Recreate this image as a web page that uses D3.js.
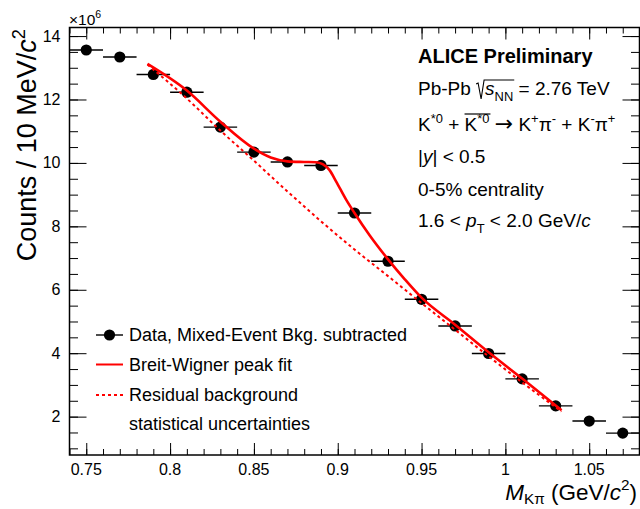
<!DOCTYPE html>
<html>
<head>
<meta charset="utf-8">
<script src="https://d3js.org/d3.v7.min.js"></script>
<style>
  body { margin: 0; background: #fff; }
  text { font-family: "Liberation Sans", Arial, Helvetica, sans-serif; fill: #000; white-space: pre; }
</style>
</head>
<body>
<div id="chart"></div>
<script>
var svgWidth = 640;
var svgHeight = 509;

var margin = { top: 27.5, right: 0.5, bottom: 54, left: 69.5 };
var width = svgWidth - margin.left - margin.right;
var height = svgHeight - margin.top - margin.bottom;

// data (counts in units of 10^6), bins of 20 MeV
var massBins = [0.75, 0.77, 0.79, 0.81, 0.83, 0.85, 0.87, 0.89, 0.91, 0.93, 0.95, 0.97, 0.99, 1.01, 1.03, 1.05, 1.07];
var counts = [13.56, 13.34, 12.79, 12.23, 11.13, 10.34, 10.03, 9.92, 8.42, 6.90, 5.70, 4.86, 3.99, 3.19, 2.34, 1.86, 1.48];
var binHalfWidth = 0.01;

// Breit-Wigner fit
var fitMass = [0.7865, 0.81, 0.83, 0.85, 0.86, 0.87, 0.88, 0.887, 0.891, 0.895, 0.899, 0.905, 0.91, 0.919, 0.93, 0.94, 0.95, 0.97, 0.99, 1.01, 1.0335];
var fitCounts = [13.12, 12.28, 11.3, 10.45, 10.17, 10.05, 10.03, 10.02, 9.96, 9.78, 9.42, 8.84, 8.42, 7.72, 6.96, 6.33, 5.75, 4.90, 4.03, 3.20, 2.20];

// residual background
var bkgMass = [0.7865, 0.81, 0.83, 0.85, 0.87, 0.89, 0.91, 0.93, 0.95, 0.97, 0.99, 1.01, 1.0335];
var bkgCounts = [13.10, 12.03, 11.02, 10.07, 9.10, 8.16, 7.27, 6.43, 5.58, 4.74, 3.90, 3.08, 2.16];

var xTickValues = [0.75, 0.8, 0.85, 0.9, 0.95, 1, 1.05];
var yTickValues = [2, 4, 6, 8, 10, 12, 14];

var legendLabels = ["Data, Mixed-Event Bkg. subtracted", "Breit-Wigner peak fit", "Residual background", "statistical uncertainties"];

var svg = d3.select("#chart")
  .append("svg")
  .attr("width", svgWidth)
  .attr("height", svgHeight);

var chartGroup = svg.append("g")
  .attr("transform", `translate(${margin.left}, ${margin.top})`);

var xScale = d3.scaleLinear().domain([0.74, 1.08]).range([0, width]);
var yScale = d3.scaleLinear().domain([0.79, 14.27]).range([height, 0]);

var xMinor = d3.range(74, 109).map(d => d / 100);
var yMinor = d3.range(2, 29).map(d => d / 2);

// helper for text with sub/superscripts
function rich(textSel, parts, size) {
  var base = 0;
  parts.forEach(function(p) {
    var small = p.sub || p.sup;
    var shift = p.sub ? size * (p.shift || 0.3) : (p.sup ? -size * (p.shift || 0.42) : 0);
    var t = textSel.append("tspan")
      .attr("dy", shift - base)
      .attr("font-size", p.fs || (small ? size * 0.68 : size))
      .text(p.t);
    if (p.i) t.attr("font-style", "italic");
    if (p.dx) t.attr("dx", p.dx);
    if (p.fam) t.style("font-family", p.fam);
    if (p.mark) t.classed(p.mark, true);
    base = shift;
  });
  return textSel;
}

// ticks, all pointing inward
function tickAxis(axis, values, size, transform) {
  chartGroup.append("g")
    .attr("transform", transform)
    .call(axis.tickValues(values).tickSize(-size).tickFormat(""))
    .call(g => g.select(".domain").remove())
    .selectAll("line").attr("stroke", "#000").attr("stroke-width", 1);
}
tickAxis(d3.axisBottom(xScale), xMinor, 6, `translate(0, ${height})`);
tickAxis(d3.axisBottom(xScale), xTickValues, 12, `translate(0, ${height})`);
tickAxis(d3.axisTop(xScale), xMinor, 6, "translate(0, 0)");
tickAxis(d3.axisTop(xScale), xTickValues, 12, "translate(0, 0)");
tickAxis(d3.axisLeft(yScale), yMinor, 8.5, "translate(0, 0)");
tickAxis(d3.axisLeft(yScale), yTickValues, 17, "translate(0, 0)");
tickAxis(d3.axisRight(yScale), yMinor, 8.5, `translate(${width}, 0)`);
tickAxis(d3.axisRight(yScale), yTickValues, 17, `translate(${width}, 0)`);

// tick labels
chartGroup.selectAll(".xlab").data(xTickValues).enter()
  .append("text")
  .attr("x", d => xScale(d))
  .attr("y", height + 20)
  .attr("text-anchor", "middle")
  .attr("font-size", 16)
  .text(d => d3.format("")(d));

chartGroup.selectAll(".ylab").data(yTickValues).enter()
  .append("text")
  .attr("x", -9)
  .attr("y", d => yScale(d) + 5.5)
  .attr("text-anchor", "end")
  .attr("font-size", 16)
  .text(d => d);

// frame
chartGroup.append("rect")
  .attr("width", width)
  .attr("height", height)
  .attr("fill", "none")
  .attr("stroke", "#000")
  .attr("stroke-width", 1.5);

// exponent
rich(svg.append("text").attr("x", 69).attr("y", 25), [{ t: "\u00d710" }, { t: "6", sup: true }], 15.5);

// axis titles
rich(svg.append("text")
  .attr("transform", "translate(36, 29) rotate(-90)")
  .attr("text-anchor", "end"),
  [{ t: "Counts / 10 MeV/" }, { t: "c", i: true }, { t: "2", sup: true }], 27);

rich(svg.append("text")
  .attr("x", 637)
  .attr("y", 499.5)
  .attr("text-anchor", "end"),
  [{ t: "M", i: true }, { t: "K\u03c0", sub: true, shift: 0.2 }, { t: " (GeV/" }, { t: "c", i: true }, { t: "2", sup: true }, { t: ")" }], 22.5);

// data error bars and markers
chartGroup.selectAll(".ebar").data(massBins).enter()
  .append("line")
  .attr("x1", d => xScale(d - binHalfWidth))
  .attr("x2", d => xScale(d + binHalfWidth))
  .attr("y1", (d, i) => yScale(counts[i]))
  .attr("y2", (d, i) => yScale(counts[i]))
  .attr("stroke", "#000")
  .attr("stroke-width", 1.4);

chartGroup.selectAll(".dot").data(massBins).enter()
  .append("circle")
  .attr("cx", d => xScale(d))
  .attr("cy", (d, i) => yScale(counts[i]))
  .attr("r", 5.6)
  .attr("fill", "#000");

// fit curves
var bkgLine = d3.line()
  .x((d, i) => xScale(d))
  .y((d, i) => yScale(bkgCounts[i]))
  .curve(d3.curveMonotoneX);
chartGroup.append("path")
  .attr("d", bkgLine(bkgMass))
  .attr("fill", "none")
  .attr("stroke", "#ff0000")
  .attr("stroke-width", 2)
  .attr("stroke-dasharray", "3,3");

var fitLine = d3.line()
  .x((d, i) => xScale(d))
  .y((d, i) => yScale(fitCounts[i]))
  .curve(d3.curveMonotoneX);
chartGroup.append("path")
  .attr("d", fitLine(fitMass))
  .attr("fill", "none")
  .attr("stroke", "#ff0000")
  .attr("stroke-width", 2.6);

// legend
var legendY = [335, 364.5, 395, 423.5];
var legend = svg.append("g");
legend.append("line").attr("x1", 96).attr("x2", 123).attr("y1", legendY[0]).attr("y2", legendY[0])
  .attr("stroke", "#000").attr("stroke-width", 1.4);
legend.append("circle").attr("cx", 109.5).attr("cy", legendY[0]).attr("r", 5.6).attr("fill", "#000");
legend.append("line").attr("x1", 96).attr("x2", 123).attr("y1", legendY[1]).attr("y2", legendY[1])
  .attr("stroke", "#ff0000").attr("stroke-width", 2);
legend.append("line").attr("x1", 96).attr("x2", 123).attr("y1", legendY[2]).attr("y2", legendY[2])
  .attr("stroke", "#ff0000").attr("stroke-width", 2).attr("stroke-dasharray", "3,3");
legend.selectAll(".ltext").data(legendLabels).enter()
  .append("text")
  .attr("x", 129)
  .attr("y", (d, i) => legendY[i] + 6)
  .attr("font-size", 18)
  .text(d => d);

// info text
var infoX = 418;
var infoSize = 19;
svg.append("text").attr("x", infoX).attr("y", 63)
  .attr("font-size", 20).attr("font-weight", "bold").text("ALICE Preliminary");

var line2 = rich(svg.append("text").attr("x", infoX).attr("y", 95),
  [{ t: "Pb-Pb " }, { t: "s", i: true, dx: 9, mark: "rootStart" }, { t: "NN", sub: true, mark: "rootEnd" }, { t: " = 2.76 TeV" }], infoSize);

var line3 = rich(svg.append("text").attr("x", infoX).attr("y", 131),
  [{ t: "K" }, { t: "*0", sup: true }, { t: " + " }, { t: "K", mark: "barStart" }, { t: "*0", sup: true, mark: "barEnd" },
   { t: " " }, { t: "\u2192", fam: "DejaVu Sans", fs: 22 }, { t: " K" }, { t: "+", sup: true }, { t: "\u03c0" }, { t: "-", sup: true },
   { t: " + K" }, { t: "-", sup: true }, { t: "\u03c0" }, { t: "+", sup: true }], infoSize);

rich(svg.append("text").attr("x", infoX).attr("y", 163),
  [{ t: "|" }, { t: "y", i: true }, { t: "| < 0.5" }], infoSize);

svg.append("text").attr("x", infoX).attr("y", 196).attr("font-size", infoSize).text("0-5% centrality");

rich(svg.append("text").attr("x", infoX).attr("y", 227),
  [{ t: "1.6 < " }, { t: "p", i: true }, { t: "T", sub: true }, { t: " < 2.0 GeV/" }, { t: "c", i: true }], infoSize);

// square root sign over s_NN
var rs = line2.select(".rootStart").node().getStartPositionOfChar(0).x;
var reNode = line2.select(".rootEnd").node();
var re = reNode.getEndPositionOfChar(reNode.getNumberOfChars() - 1).x;
svg.append("path")
  .attr("d", `M${rs - 9},${84} L${rs - 7},${83} L${rs - 4},${99} L${rs - 1},${80} L${re + 1},${80}`)
  .attr("fill", "none")
  .attr("stroke", "#000")
  .attr("stroke-width", 1.1);

// bar over second K*0
var bs = line3.select(".barStart").node().getStartPositionOfChar(0).x;
var beNode = line3.select(".barEnd").node();
var be = beNode.getEndPositionOfChar(beNode.getNumberOfChars() - 1).x;
svg.append("line")
  .attr("x1", bs).attr("x2", be + 1)
  .attr("y1", 114).attr("y2", 114)
  .attr("stroke", "#000")
  .attr("stroke-width", 1.2);
</script>
</body>
</html>
